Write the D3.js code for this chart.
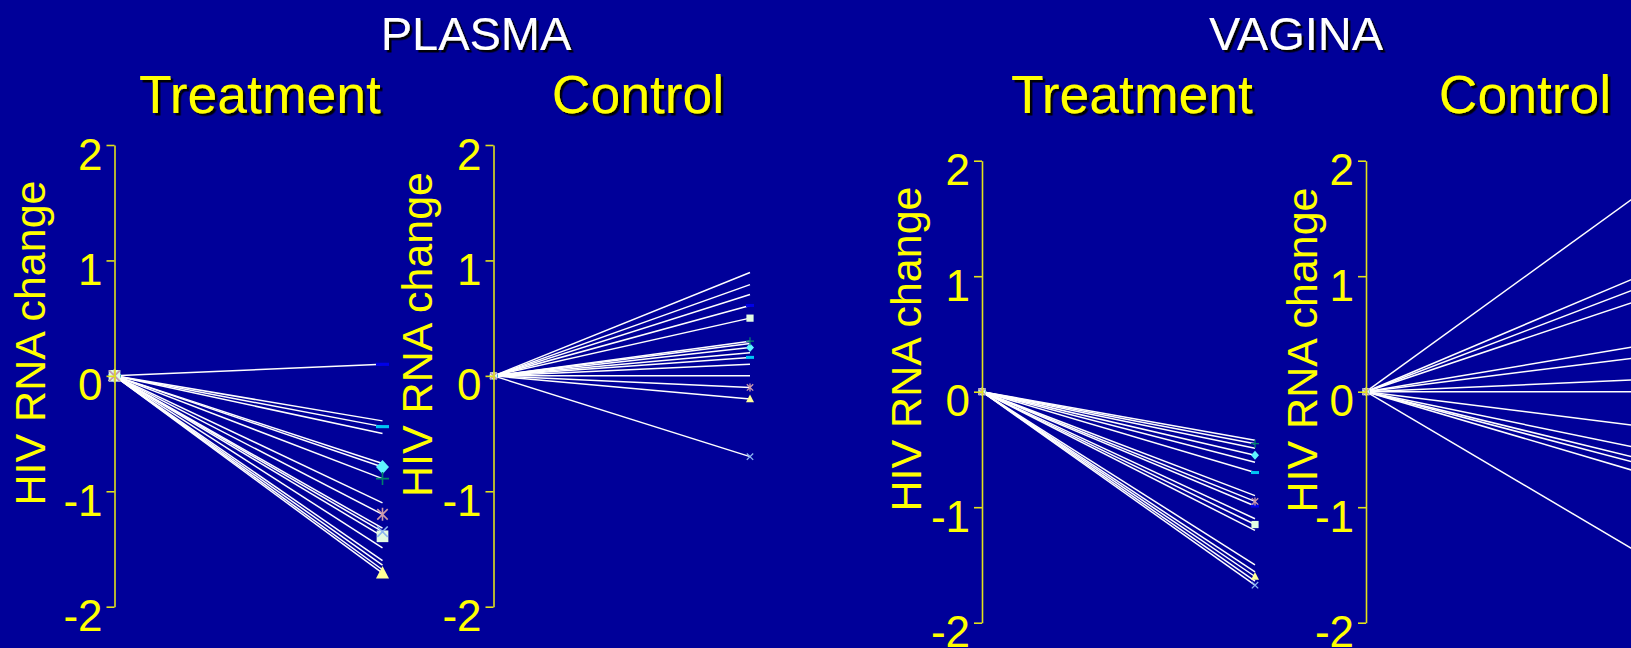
<!DOCTYPE html>
<html>
<head>
<meta charset="utf-8">
<script src="https://cdn.jsdelivr.net/npm/d3@7"></script>
<style>
  html, body { margin: 0; padding: 0; background: #000099; overflow: hidden; }
  svg { display: block; }
  text { font-family: "Liberation Sans", Arial, Helvetica, sans-serif; }
</style>
</head>
<body>
<svg id="chart" width="1631" height="648"></svg>
<script>
// Two time points per subject: baseline and follow-up
const timepoints = ["Baseline", "Follow-up"];
const yTicks = [2, 1, 0, -1, -2];

// Change in HIV RNA (log10) at follow-up, one value per subject
const plasmaTreatment = [0.10, -0.39, -0.44, -0.50, -0.76, -0.79, -0.89, -1.10, -1.20, -1.32, -1.35, -1.39, -1.49, -1.60, -1.64, -1.68, -1.71];
const plasmaTreatmentMarks = ["dashBlue", null, "dashCyan", null, null, "diamond", "plus", null, "star", null, "times", "square", null, null, null, null, "triangle"];

const plasmaControl = [0.895, 0.79, 0.705, 0.61, 0.50, 0.30, 0.28, 0.245, 0.20, 0.16, 0.10, 0.0, -0.10, -0.20, -0.70];
const plasmaControlMarks = [null, null, null, "dashBlue", "square", "plus", null, "diamond", null, "dashCyan", null, null, "star", "triangle", "times"];

const vaginaTreatment = [-0.42, -0.45, -0.49, -0.55, -0.61, -0.70, -0.90, -0.95, -0.99, -1.10, -1.15, -1.20, -1.50, -1.56, -1.60, -1.64, -1.675];
const vaginaTreatmentMarks = [null, "plus", null, "diamond", null, "dashCyan", null, "star", "dashBlue", null, "square", null, null, null, "triangle", null, "times"];

const vaginaControl = [1.73, 1.01, 0.91, 0.80, 0.40, 0.30, 0.105, 0.0, -0.30, -0.495, -0.585, -0.63, -0.705, -1.41];
const vaginaControlMarks = [null, "square", null, "dashBlue", "plus", "diamond", "dashCyan", null, "star", null, "triangle", null, null, "times"];

// Marker appearance per symbol key
const markStyles = {
  dashBlue: { shape: "dash",     color: "#0000E8" },
  dashCyan: { shape: "dash",     color: "#00C4F4" },
  diamond:  { shape: "diamond",  color: "#5EF4FF" },
  plus:     { shape: "plus",     color: "#00806C" },
  star:     { shape: "star",     color: "#CC9AAC" },
  times:    { shape: "times",    color: "#8CB6F0" },
  square:   { shape: "square",   color: "#E2FCE2" },
  triangle: { shape: "triangle", color: "#FFFF96" }
};
// Stacking order of markers where they overlap
const markOrder = ["dashBlue", "dashCyan", "diamond", "plus", "triangle", "square", "times", "star"];

const svg = d3.select("#chart");
const defs = svg.append("defs");
const shadow = defs.append("filter").attr("id", "shadow")
  .attr("x", "-10%").attr("y", "-10%").attr("width", "130%").attr("height", "140%");
shadow.append("feDropShadow").attr("dx", 2.5).attr("dy", 2.5)
  .attr("stdDeviation", 0).attr("flood-color", "#000").attr("flood-opacity", 0.95);

svg.append("rect").attr("width", 1631).attr("height", 648).attr("fill", "#000099");

// Headings
const headings = [
  { text: "PLASMA",    x: 476,  y: 50,  size: 47,   color: "#FFFFFF" },
  { text: "VAGINA",    x: 1296, y: 50,  size: 47,   color: "#FFFFFF" },
  { text: "Treatment", x: 260,  y: 113, size: 53.5, color: "#FFFF00" },
  { text: "Control",   x: 638,  y: 113, size: 53.5, color: "#FFFF00" },
  { text: "Treatment", x: 1132, y: 113, size: 53.5, color: "#FFFF00" },
  { text: "Control",   x: 1525, y: 113, size: 53.5, color: "#FFFF00" }
];
svg.selectAll("text.heading").data(headings).join("text")
  .attr("class", "heading")
  .attr("x", d => d.x).attr("y", d => d.y)
  .attr("text-anchor", "middle")
  .attr("font-size", d => d.size)
  .attr("fill", d => d.color)
  .attr("filter", "url(#shadow)")
  .text(d => d.text);

const panels = [
  { values: plasmaTreatment, marks: plasmaTreatmentMarks, x0: 114.5, x1: 382.5, top: 145,   bottom: 606.7, mark: 13, labelX: 45,    labelY: 343 },
  { values: plasmaControl,   marks: plasmaControlMarks,   x0: 493.5, x1: 750,   top: 145,   bottom: 606.7, mark: 8,  labelX: 431.5, labelY: 334.5 },
  { values: vaginaTreatment, marks: vaginaTreatmentMarks, x0: 982,   x1: 1255,  top: 160.7, bottom: 622.7, mark: 8,  labelX: 921,   labelY: 349 },
  { values: vaginaControl,   marks: vaginaControlMarks,   x0: 1366,  x1: 1642,  top: 160.7, bottom: 622.7, mark: 8,  labelX: 1316.7, labelY: 350 }
];

function drawMark(g, key, cx, cy, s) {
  const st = markStyles[key];
  const h = s / 2;
  if (st.shape === "dash") {
    g.append("rect").attr("x", cx - h).attr("y", cy - Math.max(1.5, s * 0.12))
      .attr("width", s).attr("height", Math.max(3, s * 0.24)).attr("fill", st.color);
  } else if (st.shape === "diamond") {
    g.append("path").attr("d", `M${cx},${cy - h * 1.1}L${cx + h},${cy}L${cx},${cy + h * 1.1}L${cx - h},${cy}Z`)
      .attr("fill", st.color);
  } else if (st.shape === "square") {
    g.append("rect").attr("x", cx - h * 0.9).attr("y", cy - h * 0.9)
      .attr("width", s * 0.9).attr("height", s * 0.9).attr("fill", st.color);
  } else if (st.shape === "triangle") {
    g.append("path").attr("d", `M${cx},${cy - h * 1.1}L${cx + h},${cy + h * 0.8}L${cx - h},${cy + h * 0.8}Z`)
      .attr("fill", st.color);
  } else {
    const sw = s > 10 ? 1.6 : 1.3;
    let d = "";
    if (st.shape === "plus" || st.shape === "star") d += `M${cx},${cy - h}V${cy + h}`;
    if (st.shape === "plus") d += `M${cx - h},${cy}H${cx + h}`;
    if (st.shape === "times" || st.shape === "star") {
      const k = h * 0.8;
      d += `M${cx - k},${cy - k}L${cx + k},${cy + k}M${cx - k},${cy + k}L${cx + k},${cy - k}`;
    }
    g.append("path").attr("d", d).attr("stroke", st.color).attr("stroke-width", sw).attr("fill", "none");
  }
}

panels.forEach(p => {
  const g = svg.append("g");
  const x = d3.scalePoint().domain(timepoints).range([p.x0, p.x1]);
  const y = d3.scaleLinear().domain([-2, 2]).range([p.bottom, p.top]);

  const line = d3.line().x((d, i) => x(timepoints[i])).y(d => y(d));

  // One line per subject, from zero at baseline to the follow-up change
  g.append("g").selectAll("path").data(p.values).join("path")
    .attr("d", v => line([0, v]))
    .attr("fill", "none")
    .attr("stroke", "#FFFFFF")
    .attr("stroke-width", 1.5);

  // Markers at both time points, drawn in stacking order
  const marked = p.values.map((v, i) => ({ v, key: p.marks[i] })).filter(d => d.key);
  marked.sort((a, b) => markOrder.indexOf(a.key) - markOrder.indexOf(b.key));
  const mg = g.append("g");
  marked.forEach(d => drawMark(mg, d.key, x(timepoints[0]), y(0), p.mark));
  marked.forEach(d => drawMark(mg, d.key, x(timepoints[1]), y(d.v), p.mark));

  // Y axis
  const axis = d3.axisLeft(y).tickValues(yTicks).tickFormat(d => String(d))
    .tickSize(8).tickSizeOuter(0).tickPadding(4);
  const ag = g.append("g").attr("transform", `translate(${p.x0},0)`).call(axis);
  ag.select(".domain").attr("stroke", "#E2E21A").attr("stroke-width", 1.6);
  ag.selectAll(".tick line").attr("stroke", "#E2E21A").attr("stroke-width", 1.6);
  ag.selectAll(".tick text")
    .attr("fill", "#FFFF00")
    .attr("font-size", 44)
    .attr("font-family", "'Liberation Sans', Arial, sans-serif")
    .attr("dy", "24px");

  g.append("text")
    .attr("transform", `translate(${p.labelX},${p.labelY}) rotate(-90)`)
    .attr("text-anchor", "middle")
    .attr("font-size", 43)
    .attr("fill", "#FFFF00")
    .text("HIV RNA change");
});
</script>
</body>
</html>
